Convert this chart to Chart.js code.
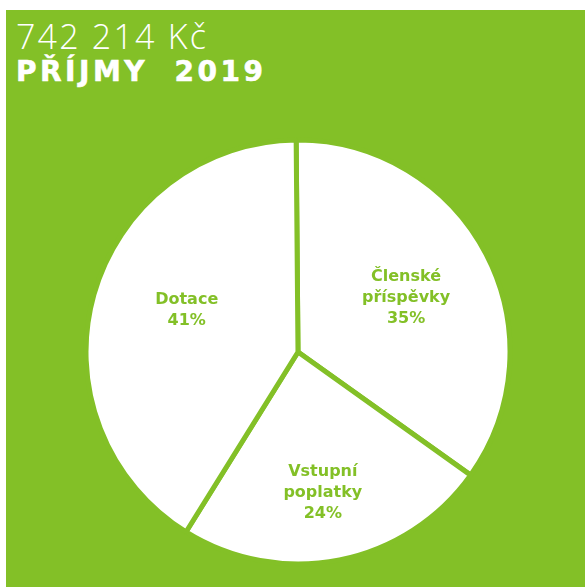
<!DOCTYPE html>
<html>
<head>
<meta charset="utf-8">
<script src="https://cdn.jsdelivr.net/npm/chart.js@4.4.0/dist/chart.umd.min.js"></script>
<style>
    body { margin: 0; background: #ffffff; width: 585px; height: 587px; overflow: hidden; }
    .panel { position: absolute; left: 6px; top: 10px; width: 579px; height: 577px; background: #83c027; }
    .amount { position: absolute; left: 10px; top: 6px; color: #fff; font-family: 'Open Sans', sans-serif; font-weight: 300; font-size: 34px; letter-spacing: 2.2px; line-height: 40px; }
    .title { position: absolute; left: 10px; top: 45px; color: #fff; font-family: 'DejaVu Sans', sans-serif; font-weight: 700; font-size: 28px; letter-spacing: 3.5px; line-height: 34px; white-space: pre; -webkit-text-stroke: 0.6px #fff; }
    .chart-box { position: absolute; left: 77px; top: 127px; width: 430px; height: 430px; }
</style>
</head>
<body>
<div class="panel">
    <div class="amount">742 214 Kč</div>
    <div class="title">PŘÍJMY  2019</div>
    <div class="chart-box"><canvas id="incomeChart"></canvas></div>
</div>
<script>
// Income 2019 data
const categories = [['Členské', 'příspěvky'], ['Vstupní', 'poplatky'], ['Dotace']];
const shares = [35, 24, 41];

const GREEN = '#83c027';

// Draw label + percentage inside each slice
const sliceLabels = {
    id: 'sliceLabels',
    afterDatasetsDraw(chart, args, opts) {
        const ctx = chart.ctx;
        const meta = chart.getDatasetMeta(0);
        ctx.save();
        ctx.fillStyle = GREEN;
        ctx.font = 'bold 16px "DejaVu Sans", sans-serif';
        ctx.textAlign = 'center';
        ctx.textBaseline = 'middle';
        meta.data.forEach((arc, i) => {
            const p = arc.getProps(['x', 'y', 'startAngle', 'endAngle', 'outerRadius']);
            const mid = (p.startAngle + p.endAngle) / 2;
            const r = p.outerRadius * opts.offsets[i];
            const cx = p.x + Math.cos(mid) * r + opts.shift[i][0];
            const cy = p.y + Math.sin(mid) * r + opts.shift[i][1];
            const lines = categories[i].concat([shares[i] + '%']);
            const lh = 21;
            lines.forEach((t, j) => {
                ctx.fillText(t, cx, cy + (j - (lines.length - 1) / 2) * lh);
            });
        });
        ctx.restore();
    }
};

new Chart(document.getElementById('incomeChart'), {
    type: 'pie',
    data: {
        labels: categories.map(c => c.join(' ')),
        datasets: [{
            data: shares,
            backgroundColor: '#ffffff',
            borderColor: GREEN,
            borderWidth: 5
        }]
    },
    options: {
        responsive: true,
        maintainAspectRatio: false,
        animation: false,
        rotation: -0.5,
        radius: 212,
        plugins: {
            legend: { display: false },
            tooltip: { enabled: false },
            sliceLabels: {
                offsets: [0.58, 0.67, 0.56],
                shift: [[-1, 3], [-3, 2], [3, -10]]
            }
        }
    },
    plugins: [sliceLabels]
});
</script>
</body>
</html>
